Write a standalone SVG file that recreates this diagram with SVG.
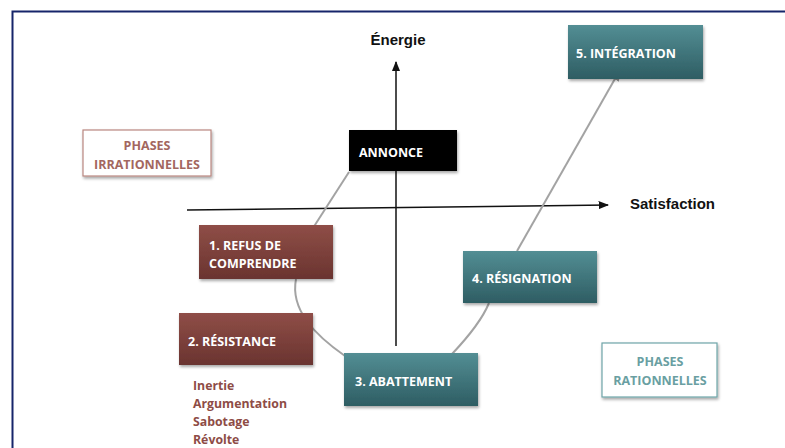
<svg xmlns="http://www.w3.org/2000/svg" width="785" height="448" viewBox="0 0 785 448">
<defs>
<linearGradient id="teal" x1="0" y1="0" x2="0" y2="1"><stop offset="0" stop-color="#538e94"/><stop offset="1" stop-color="#2e5d63"/></linearGradient>
<linearGradient id="brown" x1="0" y1="0" x2="0" y2="1"><stop offset="0" stop-color="#8f4e47"/><stop offset="1" stop-color="#6a3430"/></linearGradient>
<filter id="sh" x="-10%" y="-10%" width="130%" height="140%"><feGaussianBlur in="SourceAlpha" stdDeviation="1.5"/><feOffset dx="1" dy="2"/><feComponentTransfer><feFuncA type="linear" slope="0.35"/></feComponentTransfer><feMerge><feMergeNode/><feMergeNode in="SourceGraphic"/></feMerge></filter>
<marker id="ah" viewBox="0 0 10 10" refX="9" refY="5" markerWidth="7" markerHeight="7" orient="auto"><path d="M0,1 L10,5 L0,9 Z" fill="#111"/></marker>
<marker id="ag" viewBox="0 0 10 10" refX="9" refY="5" markerWidth="6" markerHeight="6" orient="auto"><path d="M0,1 L10,5 L0,9 Z" fill="#999"/></marker>
</defs>
<style>
.lbl{font-family:"Open Sans","Liberation Sans",sans-serif;font-weight:bold;font-size:12.5px;fill:#fff}
.ax{font-family:"Liberation Sans",Arial,sans-serif;font-weight:bold;font-size:15px;fill:#111}
.gl{fill:none;stroke:#a3a3a3;stroke-width:2}
.list{font-family:"Open Sans","Liberation Sans",sans-serif;font-weight:bold;font-size:12.3px;fill:#8e4c46}
.ph{font-family:"Open Sans","Liberation Sans",sans-serif;font-weight:bold;font-size:12.5px}
</style>
<rect x="0" y="0" width="785" height="448" fill="#fff"/>
<rect x="12.5" y="11.5" width="790" height="460" fill="none" stroke="#16256a" stroke-width="2"/>
<g id="connectors">
<line x1="396" y1="346" x2="396" y2="62" stroke="#111" stroke-width="1.5" marker-end="url(#ah)"/>
<line x1="187" y1="210" x2="608" y2="205" stroke="#111" stroke-width="1.5" marker-end="url(#ah)"/>
<path class="gl" d="M349,172 L313,228"/>
<path class="gl" d="M296,279 C290,310 315,335 345,356"/>
<path class="gl" d="M452,354 C470,335 482,320 489,303"/>
<path class="gl" d="M517,251 L620,70" marker-end="url(#ag)"/>
</g>
<g id="energie"><text class="ax" x="398" y="45" text-anchor="middle">Énergie</text></g>
<g id="satisfaction"><text class="ax" x="630" y="209">Satisfaction</text></g>
<g id="phases-irrationnelles">
<rect x="83" y="130" width="128" height="46" fill="#fff" stroke="#b98780" stroke-width="1.2" filter="url(#sh)"/>
<text class="ph" x="147" y="149.5" text-anchor="middle" fill="#a3675f">PHASES</text>
<text class="ph" x="147" y="168.5" text-anchor="middle" fill="#a3675f">IRRATIONNELLES</text>
</g>
<g id="annonce">
<rect x="349" y="130" width="108" height="41" fill="#050505" filter="url(#sh)"/>
<text class="lbl" x="359" y="157">ANNONCE</text>
</g>
<g id="integration">
<rect x="568" y="25" width="135" height="54" fill="url(#teal)" filter="url(#sh)"/>
<text class="lbl" x="576" y="58">5. INTÉGRATION</text>
</g>
<g id="refus">
<rect x="199" y="225" width="134" height="54" fill="url(#brown)" filter="url(#sh)"/>
<text class="lbl" x="209" y="250">1. REFUS DE</text>
<text class="lbl" x="209" y="268">COMPRENDRE</text>
</g>
<g id="resistance">
<rect x="179" y="313" width="134" height="52" fill="url(#brown)" filter="url(#sh)"/>
<text class="lbl" x="188" y="345.5">2. RÉSISTANCE</text>
<text class="list" x="193" y="389.5">Inertie</text>
<text class="list" x="193" y="407.5">Argumentation</text>
<text class="list" x="193" y="426">Sabotage</text>
<text class="list" x="193" y="443.5">Révolte</text>
</g>
<g id="abattement">
<rect x="344" y="353" width="134" height="53" fill="url(#teal)" filter="url(#sh)"/>
<text class="lbl" x="355" y="385.5">3. ABATTEMENT</text>
</g>
<g id="resignation">
<rect x="463" y="251" width="134" height="52" fill="url(#teal)" filter="url(#sh)"/>
<text class="lbl" x="472" y="282.5">4. RÉSIGNATION</text>
</g>
<g id="phases-rationnelles">
<rect x="602" y="343" width="115" height="54" fill="#fff" stroke="#6fa5a8" stroke-width="1.2" filter="url(#sh)"/>
<text class="ph" x="660" y="366" text-anchor="middle" fill="#6a9fa2">PHASES</text>
<text class="ph" x="660" y="384.5" text-anchor="middle" fill="#6a9fa2">RATIONNELLES</text>
</g>
</svg>
